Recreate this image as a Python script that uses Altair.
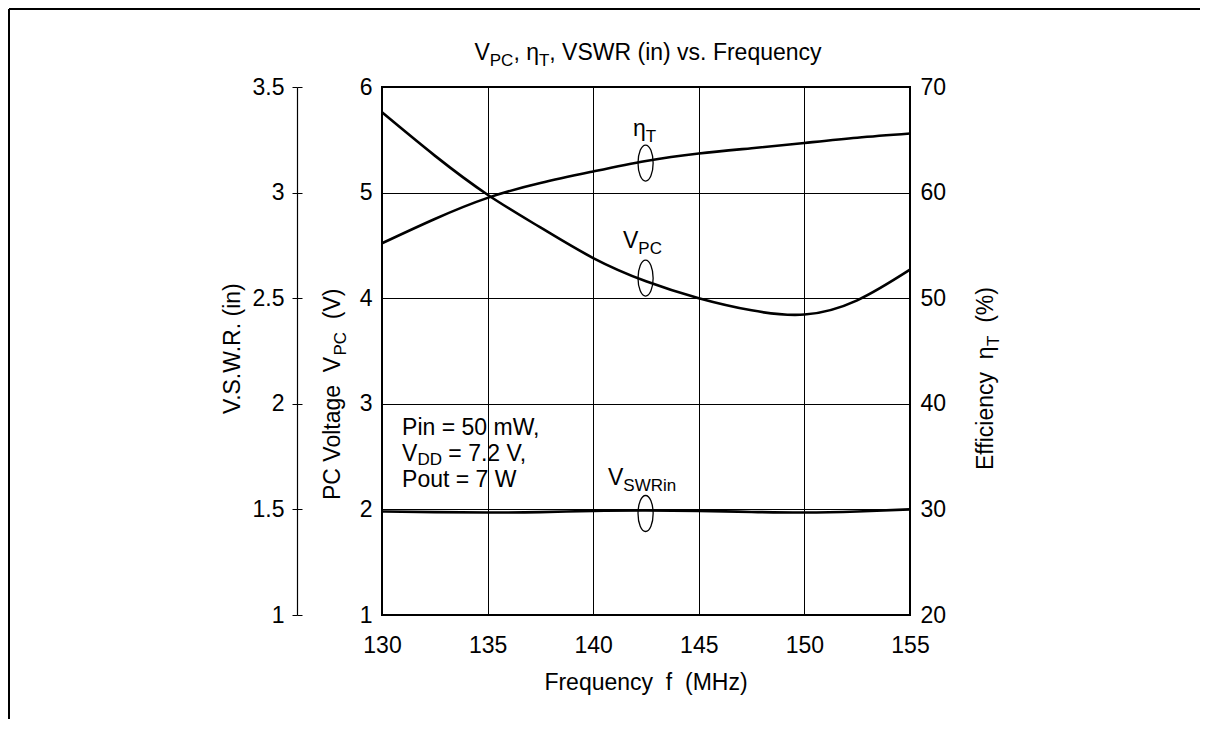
import altair as alt
import pandas as pd

# ---------------- data ----------------
freq = [130, 132.5, 135, 137.5, 140, 142.5, 145, 147.5, 150, 152.5, 155]
vpc = [5.76, 5.35, 4.98, 4.67, 4.38, 4.16, 4.00, 3.885, 3.845, 3.98, 4.27]
eta = [55.2, 57.5, 59.5, 60.9, 62.0, 63.0, 63.7, 64.2, 64.7, 65.2, 65.6]
vswr = [1.490, 1.487, 1.485, 1.487, 1.493, 1.495, 1.493, 1.488, 1.485, 1.490, 1.500]

x_ticks = [130, 135, 140, 145, 150, 155]
vpc_ticks = [1, 2, 3, 4, 5, 6]
eta_ticks = [20, 30, 40, 50, 60, 70]
vswr_ticks = [1, 1.5, 2, 2.5, 3, 3.5]

NB = "\u00a0"
title_pieces = [("V", False), ("PC", True), ("," + NB + "η", False), ("T", True),
                ("," + NB + "VSWR" + NB + "(in)" + NB + "vs." + NB + "Frequency", False)]
xtitle_pieces = [("Frequency" + NB + NB + "f" + NB + NB + "(MHz)", False)]
vswr_title_pieces = [("V.S.W.R." + NB + "(in)", False)]
vpc_title_pieces = [("PC" + NB + "Voltage" + NB + NB + "V", False), ("PC", True), (NB + NB + "(V)", False)]
eta_title_pieces = [("Efficiency" + NB + NB + "η", False), ("T", True), (NB + NB + "(%)", False)]

cond_lines = [
    (130.95, 2.700, [("Pin" + NB + "=" + NB + "50" + NB + "mW,", False)]),
    (130.95, 2.462, [("V", False), ("DD", True), (NB + "=" + NB + "7.2" + NB + "V,", False)]),
    (130.95, 2.212, [("Pout" + NB + "=" + NB + "7" + NB + "W", False)]),
]
curve_labels = [
    (141.88, 5.54, [("η", False), ("T", True)]),
    (141.41, 4.475, [("V", False), ("PC", True)]),
    (140.70, 2.231, [("V", False), ("SWRin", True)]),
]
loop_f = [142.48, 142.48, 142.48]
loop_v = [5.28, 4.19, 1.961]

# ---------------- style ----------------
FONT = "Liberation Sans, Arial, Helvetica, sans-serif"
FS = 23
SUB = 17
SUBDY = 6
W, H = 528, 528
PAD = {"left": 374, "top": 79, "right": 290, "bottom": 104}

_w = {" ": 278, NB: 278, "(": 333, ")": 333, ",": 278, ".": 278, "=": 584, "%": 889, "η": 556}
for ch in "0123456789":
    _w[ch] = 556
_w.update(dict(A=667, B=667, C=722, D=722, E=667, F=611, G=778, H=722, I=278, J=500, K=667, L=556,
               M=833, N=722, O=778, P=667, Q=778, R=722, S=667, T=611, U=722, V=667, W=944, X=667,
               Y=667, Z=611))
_w.update(dict(a=556, b=556, c=500, d=556, e=556, f=278, g=556, h=556, i=222, j=222, k=500, l=222,
               m=833, n=556, o=556, p=556, q=556, r=333, s=500, t=278, u=556, v=500, w=722, x=500,
               y=500, z=500))


def tw(s, size):
    return sum(_w.get(ch, 556) for ch in s) / 1000.0 * size


def pieces_width(pieces):
    return sum(tw(t, SUB if s else FS) for t, s in pieces)


def split_lead(txt, size):
    """leading spaces get trimmed by the renderer: turn them into an offset"""
    body = txt.lstrip(NB + " ")
    return tw(txt[:len(txt) - len(body)], size), body


one = alt.InlineData(values=[{"d": 0}])

df = pd.DataFrame({"f": freq, "vpc": vpc, "eta": eta, "vswr": vswr})

X = alt.X("f:Q", scale=alt.Scale(domain=[130, 155], nice=False, zero=False),
          axis=alt.Axis(values=x_ticks, grid=True, gridColor="black", gridWidth=1, gridOpacity=1,
                        ticks=False, tickSize=0, domain=False, labelPadding=19, labelFontSize=FS,
                        labelFont=FONT, labelColor="black", labelFlush=False, labelOverlap=False,
                        title=None, format="d"))


def Yann():
    return alt.Y("v:Q", scale=alt.Scale(domain=[1, 6], nice=False, zero=False), axis=None)


def line_style():
    return dict(color="black", strokeWidth=2.6, interpolate="natural")


vpc_line = alt.Chart(df).mark_line(**line_style()).encode(
    x=X,
    y=alt.Y("vpc:Q", scale=alt.Scale(domain=[1, 6], nice=False, zero=False),
            axis=alt.Axis(orient="left", values=vpc_ticks, grid=True, gridColor="black", gridWidth=1,
                          gridOpacity=1, ticks=False, tickSize=0, domain=False, labelPadding=10,
                          labelFontSize=FS, labelFont=FONT, labelColor="black", labelFlush=False,
                          labelOverlap=False, title=None, format="d")))

eta_line = alt.Chart(df).mark_line(**line_style()).encode(
    x=X,
    y=alt.Y("eta:Q", scale=alt.Scale(domain=[20, 70], nice=False, zero=False),
            axis=alt.Axis(orient="right", values=eta_ticks, grid=False, ticks=False, tickSize=0,
                          domain=False, labelPadding=10, labelFontSize=FS, labelFont=FONT,
                          labelColor="black", labelFlush=False, labelOverlap=False, title=None,
                          format="d")))

vswr_line = alt.Chart(df).mark_line(**line_style()).encode(
    x=X,
    y=alt.Y("vswr:Q", scale=alt.Scale(domain=[1, 3.5], nice=False, zero=False),
            axis=alt.Axis(orient="left", offset=85, values=vswr_ticks, grid=False, ticks=True,
                          tickSize=5, tickColor="black", tickWidth=1, domain=True,
                          domainColor="black", domainWidth=1.2, labelPadding=8, labelFontSize=FS,
                          labelFont=FONT, labelColor="black", labelFlush=False, labelOverlap=False,
                          title=None, format=".1~f")))

# inner half of the V.S.W.R. axis ticks (ticks cross the axis line)
vswr_inner = alt.Chart(df).mark_line(strokeOpacity=0).encode(
    x=X,
    y=alt.Y("vswr:Q", scale=alt.Scale(domain=[1, 3.5], nice=False, zero=False),
            axis=alt.Axis(orient="right", offset=-(85 + W), values=vswr_ticks, grid=False,
                          ticks=True, tickSize=5, tickColor="black", tickWidth=1, domain=False,
                          labels=False, title=None)))

loops = alt.Chart(pd.DataFrame({"f": loop_f, "v": loop_v})).mark_point(
    shape="M0,-1C0.232,-1 0.42,-0.552 0.42,0C0.42,0.552 0.232,1 0,1C-0.232,1 -0.42,0.552 -0.42,0"
          "C-0.42,-0.552 -0.232,-1 0,-1Z",
    size=1296, filled=False, color="black", strokeWidth=1.3, opacity=1).encode(x=X, y=Yann())


def data_label(f, v, pieces, subdy=SUBDY):
    layers = []
    off = 0.0
    for txt, sub in pieces:
        size = SUB if sub else FS
        lead, body = split_lead(txt, size)
        layers.append(
            alt.Chart(pd.DataFrame({"f": [f], "v": [v]})).mark_text(
                text=body, align="left", baseline="alphabetic", dx=off + lead,
                dy=subdy if sub else 0, fontSize=size, font=FONT, color="black"
            ).encode(x=X, y=Yann()))
        off += tw(txt, size)
    return layers


def pixel_label(x, y, pieces, angle=0):
    layers = []
    off = 0.0
    for txt, sub in pieces:
        size = SUB if sub else FS
        lead, body = split_lead(txt, size)
        o = off + lead
        if angle == 0:
            px, py = x + o, y + (SUBDY if sub else 0)
        else:
            px, py = x + (SUBDY if sub else 0), y - o
        mk = dict(text=body, align="left", baseline="alphabetic", fontSize=size, font=FONT,
                  color="black")
        if angle:
            mk["angle"] = angle
        layers.append(alt.Chart(one).mark_text(**mk).encode(x=alt.value(px), y=alt.value(py)))
        off += tw(txt, size)
    return layers


texts = []
texts += pixel_label(266 - pieces_width(title_pieces) / 2, -27, title_pieces)
texts += pixel_label(264 - pieces_width(xtitle_pieces) / 2, 603, xtitle_pieces)
texts += pixel_label(-142, 260 + pieces_width(vswr_title_pieces) / 2, vswr_title_pieces, angle=270)
texts += pixel_label(-42, 413, vpc_title_pieces, angle=270)
texts += pixel_label(611, 383, eta_title_pieces, angle=270)
for f, v, p in cond_lines:
    texts += data_label(f, v, p, subdy=4)
for f, v, p in curve_labels:
    texts += data_label(f, v, p)

frame_left = alt.Chart(one).mark_rule(color="black", strokeWidth=2).encode(
    x=alt.value(-PAD["left"] + 1), y=alt.value(-PAD["top"] + 1), y2=alt.value(H + PAD["bottom"]))
frame_top = alt.Chart(one).mark_rule(color="black", strokeWidth=2).encode(
    x=alt.value(-PAD["left"] + 1), x2=alt.value(W + PAD["right"]), y=alt.value(-PAD["top"] + 1))

chart = alt.layer(
    vpc_line, eta_line, vswr_line, vswr_inner, loops, *texts, frame_left, frame_top
).resolve_scale(y="independent").properties(
    width=W, height=H, autosize=alt.AutoSizeParams(type="none"), padding=PAD,
    background="white"
).configure_view(stroke="black", strokeWidth=2)

chart.save("out.html", embed_options={"renderer": "svg", "actions": False})
